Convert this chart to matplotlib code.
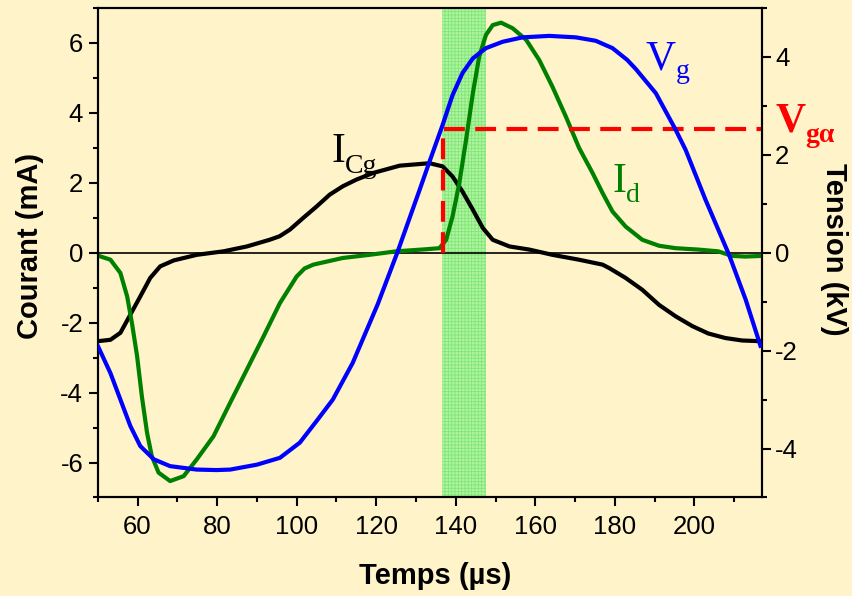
import matplotlib
matplotlib.use("Agg")
from matplotlib import pyplot as plt
from matplotlib.ticker import MultipleLocator

# time axis in microseconds, gap voltage in kV
t_vg = [50, 53.2, 55.7, 58.2, 60.7, 64.1, 68.2, 74.9, 79.9, 83.3, 90.0, 95.8, 100.8, 105.0,
        109.1, 114.1, 120.4, 125.3, 130.9, 133.4, 136.7, 139.2, 141.7, 144.3, 147.6, 151.8,
        156.8, 163.5, 170.2, 175.2, 179.4, 183.1, 185.3, 190.3, 195.3, 197.8, 202.8, 208.7,
        212.9, 216.6]
vg_kv = [-1.90, -2.46, -3.00, -3.54, -3.95, -4.22, -4.36, -4.43, -4.44, -4.43, -4.33, -4.19,
         -3.88, -3.44, -3.00, -2.25, -1.05, 0.00, 1.28, 1.86, 2.61, 3.22, 3.67, 3.97, 4.18,
         4.31, 4.40, 4.43, 4.40, 4.33, 4.18, 3.94, 3.75, 3.26, 2.51, 2.10, 1.08, -0.04,
         -0.96, -1.90]

# discharge current (mA)
t_id = [50, 53.2, 55.7, 57.4, 58.6, 59.9, 61.1, 62.4, 63.6, 65.3, 68.2, 71.6, 74.9, 79.1,
        83.3, 87.5, 91.7, 95.8, 100.0, 102.0, 104.2, 111.6, 118.3, 125.0, 132.6, 135.9,
        137.6, 139.2, 140.9, 142.6, 144.3, 145.9, 147.6, 149.3, 151.4, 154.3, 157.7, 161.0,
        164.3, 167.7, 171.0, 174.4, 176.9, 179.4, 182.7, 186.9, 191.1, 195.3, 201.0, 206.0,
        209.4, 212.8, 217]
id_ma = [-0.08, -0.20, -0.58, -1.25, -2.01, -2.96, -4.11, -5.15, -5.82, -6.29, -6.53, -6.39,
         -5.91, -5.25, -4.29, -3.34, -2.39, -1.44, -0.68, -0.45, -0.34, -0.15, -0.06, 0.04,
         0.10, 0.13, 0.37, 1.04, 1.99, 3.23, 4.56, 5.61, 6.23, 6.51, 6.58, 6.42, 6.09, 5.51,
         4.75, 3.89, 3.00, 2.28, 1.71, 1.18, 0.75, 0.37, 0.20, 0.13, 0.09, 0.04,
         -0.09, -0.11, -0.09]

# capacitive current (mA)
t_icg = [50, 53.2, 55.7, 58.2, 60.7, 63.2, 65.7, 69.1, 74.9, 81.6, 87.5, 93.2, 95.7, 98.3,
         101.6, 105.0, 108.3, 111.6, 115.0, 119.2, 125.9, 133.4, 136.7, 139.2, 141.7, 144.3,
         146.8, 149.3, 153.5, 158.5, 164.3, 171.0, 176.9, 178.6, 182.7, 186.9, 191.1, 195.3,
         199.5, 203.5, 207.8, 212.0, 216.6]
icg_ma = [-2.53, -2.49, -2.29, -1.77, -1.25, -0.72, -0.39, -0.22, -0.06, 0.04, 0.18, 0.37,
          0.47, 0.66, 0.99, 1.32, 1.66, 1.90, 2.09, 2.28, 2.49, 2.56, 2.47, 2.18, 1.75, 1.23,
          0.71, 0.37, 0.18, 0.09, -0.06, -0.20, -0.34, -0.44, -0.72, -1.06, -1.49, -1.82,
          -2.10, -2.31, -2.44, -2.51, -2.53]

# threshold voltage and window
t_alpha = 136.7
v_alpha = 2.53
window = [136.5, 147.6]

bg = '#FFF3C9'
plt.rcParams['font.family'] = ['Liberation Sans', 'DejaVu Sans']
plt.rcParams['hatch.linewidth'] = 0.6
plt.rcParams['axes.unicode_minus'] = False

fig = plt.figure(figsize=(8.52, 5.96), dpi=100, facecolor=bg)
ax = fig.add_axes([0.1147, 0.1653, 0.7797, 0.8213], facecolor=bg)
ax2 = ax.twinx()

ax.axvspan(window[0], window[1], facecolor='#B2F2A6', edgecolor='#7FE870', hatch='+++++',
           linewidth=0, zorder=0)
ax.axhline(0, color='black', lw=1.2, zorder=1)

ax2.plot([t_alpha, t_alpha, 217], [0, v_alpha, v_alpha], color='red', lw=3,
         dashes=(5, 2.5), zorder=2)
ax.plot(t_icg, icg_ma, color='black', lw=3, solid_joinstyle='round', zorder=3)
ax.plot(t_id, id_ma, color='#008000', lw=3, solid_joinstyle='round', zorder=3)
ax2.plot(t_vg, vg_kv, color='blue', lw=3, solid_joinstyle='round', zorder=4)

ax.set_xlim(50, 217)
ax.set_ylim(-7, 7)
ax2.set_ylim(-5, 5)

ax.xaxis.set_major_locator(MultipleLocator(20))
ax.xaxis.set_minor_locator(MultipleLocator(10))
ax.yaxis.set_major_locator(MultipleLocator(2))
ax.yaxis.set_minor_locator(MultipleLocator(1))
ax2.yaxis.set_major_locator(MultipleLocator(2))
ax2.yaxis.set_minor_locator(MultipleLocator(1))

for a in (ax, ax2):
    for s in a.spines.values():
        s.set_linewidth(1.5)
    a.tick_params(which='major', direction='out', length=6.5, width=1.5, labelsize=18.5)
    a.tick_params(which='minor', direction='out', length=3.5, width=1.5)
ax.tick_params(axis='x', pad=6)
ax.tick_params(axis='y', pad=4)
ax2.tick_params(axis='y', pad=3)

ax.set_xlabel('Temps (µs)', fontsize=21, fontweight='bold', va='center')
ax.xaxis.set_label_coords(0.5085, -0.160)
ax.set_ylabel('Courant (mA)', fontsize=21, fontweight='bold', va='center')
ax.yaxis.set_label_coords(-0.102, 0.514)
ax2.set_ylabel('Tension (kV)', fontsize=21, fontweight='bold', rotation=270, va='center')
ax2.yaxis.set_label_coords(1.108, 0.506)

serif = ['Liberation Serif', 'DejaVu Serif']
ax.text(108.8, 2.6, 'I', fontsize=30, family=serif, color='black')
ax.text(112.2, 2.29, 'Cg', fontsize=20, family=serif, color='black')
ax.text(179.4, 1.74, 'I', fontsize=30, family=serif, color='#008000')
ax.text(182.9, 1.46, 'd', fontsize=20, family=serif, color='#008000')
ax.text(187.7, 5.23, 'V', fontsize=30, family=serif, color='blue')
ax.text(195.3, 5.0, 'g', fontsize=20, family=serif, color='blue')
ax.text(220.3, 3.47, 'V', fontsize=30, family=serif, color='red', fontweight='bold', clip_on=False)
ax.text(227.8, 3.17, 'gα', fontsize=20, family=serif, color='red', fontweight='bold', clip_on=False)

fig.savefig('out.png', dpi=100, facecolor=bg)
